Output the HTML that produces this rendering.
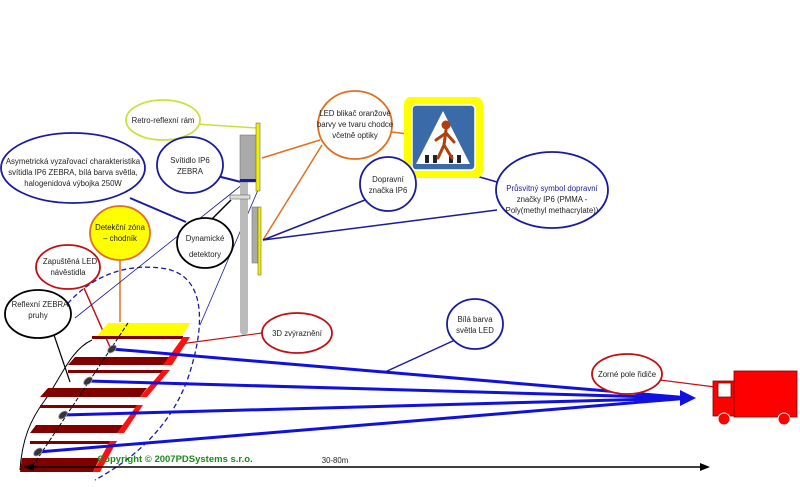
<!DOCTYPE html>
<html><head><meta charset="utf-8"><style>
body{margin:0;background:#fff}
svg{display:block;font-family:"Liberation Sans",sans-serif}
text{font-size:7.8px;fill:#222;text-anchor:middle}
</style></head><body>
<svg width="800" height="490" viewBox="0 0 800 490">
<!-- connector lines -->
<line x1="195" y1="124" x2="257" y2="128" stroke="#cce03a" stroke-width="1.5"/>
<line x1="130" y1="198" x2="186" y2="222" stroke="#1a1aa0" stroke-width="2"/>
<line x1="213" y1="175" x2="241" y2="182" stroke="#1a1aa0" stroke-width="2"/>
<line x1="120" y1="258" x2="120" y2="322" stroke="#e07020" stroke-width="1.5"/>
<line x1="212" y1="219" x2="231" y2="200" stroke="#000" stroke-width="1.5"/>
<line x1="84" y1="288" x2="110" y2="347" stroke="#c01010" stroke-width="1.5"/>
<line x1="54" y1="335" x2="70" y2="382" stroke="#000" stroke-width="1.2"/>
<line x1="320" y1="140" x2="262" y2="158" stroke="#e07020" stroke-width="1.5"/>
<line x1="322" y1="145" x2="263" y2="240" stroke="#e07020" stroke-width="1.5"/>
<line x1="392" y1="132" x2="432" y2="137" stroke="#e07020" stroke-width="1.5"/>
<line x1="410" y1="175" x2="443" y2="167" stroke="#1a1aa0" stroke-width="1.5"/>
<line x1="365" y1="200" x2="263" y2="240" stroke="#1a1aa0" stroke-width="1.5"/>
<line x1="497" y1="182" x2="445" y2="167" stroke="#1a1aa0" stroke-width="1.5"/>
<line x1="497" y1="210" x2="263" y2="240" stroke="#1a1aa0" stroke-width="1.5"/>
<line x1="262" y1="333" x2="180" y2="344" stroke="#c01010" stroke-width="1.2"/>
<line x1="455" y1="340" x2="385" y2="372" stroke="#1a1aa0" stroke-width="1.5"/>
<line x1="660" y1="380" x2="715" y2="387" stroke="#c01010" stroke-width="1.2"/>
<!-- thin light cone lines -->
<line x1="243" y1="184" x2="75" y2="318" stroke="#1a1aa0" stroke-width="0.8"/>
<line x1="258" y1="190" x2="200" y2="325" stroke="#1a1aa0" stroke-width="0.8"/>
<path d="M50,330 C70,290 110,262 160,268 C205,272 205,320 192,365 C180,410 150,450 95,480" fill="none" stroke="#1a1aa0" stroke-width="1.3" stroke-dasharray="5,3"/>
<!-- pole -->
<rect x="240" y="135" width="8" height="200" rx="4" fill="#bbb"/>
<rect x="240" y="135" width="17" height="47" fill="#aaa" stroke="#666" stroke-width="0.5"/>
<rect x="240" y="179" width="17" height="3" fill="#1a1aa0"/>
<rect x="256" y="123" width="4" height="68" fill="#f0f000" stroke="#555" stroke-width="0.5"/>
<rect x="252" y="207" width="6" height="56" fill="#aaa" stroke="#666" stroke-width="0.5"/>
<rect x="258" y="207" width="3" height="68" fill="#f0f000" stroke="#555" stroke-width="0.5"/>
<rect x="230" y="195" width="20" height="4" fill="#ddd" stroke="#666" stroke-width="0.6"/>
<!-- crossing -->
<polygon points="108,323 190,323 180,339 94,339" fill="#ffff00"/>
<path d="M92,340 C70,350 60,380 45,400 C30,420 22,440 20,470" fill="none" stroke="#000" stroke-width="1"/>
<g fill="#800000">
<rect x="92" y="336" width="91" height="3"/><polygon points="75,357 170,357 163,365 68,365"/>
<rect x="68" y="370" width="95" height="3"/><polygon points="48,388 147,388 140,397 40,397"/>
<rect x="40" y="405" width="97" height="3"/><polygon points="36,425 124,425 117,433 30,433"/>
<rect x="30" y="441" width="80" height="3"/><polygon points="22,458 100,458 93,472 20,472"/>
</g>
<g fill="#ff1010">
<polygon points="183,337 190,337 172,365 163,365"/>
<polygon points="163,370 170,370 147,397 140,397"/>
<polygon points="137,405 143,405 124,433 117,433"/>
<polygon points="110,441 117,441 100,472 93,472"/>
</g>
<line x1="128" y1="323" x2="30" y2="470" stroke="#000" stroke-width="1" stroke-dasharray="4,2"/>
<!-- beams -->
<g stroke="#1010e0" stroke-width="3">
<line x1="112" y1="349" x2="690" y2="398"/>
<line x1="88" y1="381" x2="690" y2="398"/>
<line x1="63" y1="415" x2="690" y2="398"/>
<line x1="38" y1="452" x2="690" y2="398"/>
</g>
<polygon points="680,390 696,398 680,406" fill="#1010e0"/>
<g fill="#334" stroke="#999" stroke-width="0.8">
<ellipse cx="112" cy="349" rx="5" ry="3" transform="rotate(-40 112 349)"/>
<ellipse cx="88" cy="381" rx="5" ry="3" transform="rotate(-40 88 381)"/>
<ellipse cx="63" cy="415" rx="5" ry="3" transform="rotate(-40 63 415)"/>
<ellipse cx="38" cy="452" rx="5" ry="3" transform="rotate(-40 38 452)"/>
</g>
<!-- axis -->
<line x1="24" y1="467" x2="702" y2="467" stroke="#000" stroke-width="1.5"/>
<polygon points="700,463 710,467 700,471" fill="#000"/>
<polygon points="34,463 24,467 34,471" fill="#000"/>
<text x="175" y="462" style="fill:#1a8a1a;font-weight:bold;font-size:9.5px">Copyright © 2007PDSystems s.r.o.</text>
<text x="335" y="463">30-80m</text>
<!-- truck -->
<rect x="734" y="371" width="63" height="46" fill="#ff0000" stroke="#800000" stroke-width="0.8"/>
<rect x="713" y="381" width="21" height="35" fill="#ff0000" stroke="#800000" stroke-width="0.8"/>
<rect x="718" y="383" width="13" height="14" fill="#fff" stroke="#800000" stroke-width="0.8"/>
<circle cx="724" cy="419" r="6" fill="#ff0000" stroke="#fff" stroke-width="1"/>
<circle cx="784" cy="419" r="6" fill="#ff0000" stroke="#fff" stroke-width="1"/>
<!-- sign -->
<rect x="404" y="97" width="79" height="81" rx="7" fill="#ffff00"/>
<rect x="412" y="105" width="63" height="65" rx="4" fill="#3a6aa8" stroke="#fff" stroke-width="1.5"/>
<polygon points="443,111 470,164 416,164" fill="#fff"/>
<g fill="#222"><rect x="425" y="155" width="4" height="8"/><rect x="433" y="155" width="4" height="8"/><rect x="449" y="155" width="4" height="8"/><rect x="457" y="155" width="4" height="8"/></g>
<g stroke="#b04010" stroke-width="3" stroke-linecap="round" fill="none"><circle cx="446" cy="125" r="3" fill="#b04010"/><line x1="446" y1="130" x2="444" y2="145"/><line x1="444" y1="145" x2="438" y2="158"/><line x1="444" y1="145" x2="452" y2="158"/><line x1="446" y1="133" x2="436" y2="140"/><line x1="446" y1="133" x2="454" y2="142"/></g>
<!-- ellipses -->
<g fill="#fff" stroke-width="1.8">
<ellipse cx="163" cy="120" rx="37" ry="20" stroke="#cce03a"/>
<ellipse cx="73" cy="168" rx="72" ry="35" stroke="#1a1aa0"/>
<ellipse cx="190" cy="165" rx="33" ry="28" stroke="#1a1aa0"/>
<ellipse cx="120" cy="233" rx="30" ry="27" stroke="#e07020" fill="#ffff00"/>
<ellipse cx="205" cy="243" rx="28" ry="25" stroke="#000"/>
<ellipse cx="68" cy="267" rx="32" ry="22" stroke="#c01010"/>
<ellipse cx="38" cy="314" rx="33" ry="24" stroke="#000"/>
<ellipse cx="355" cy="125" rx="37" ry="34" stroke="#e07020"/>
<ellipse cx="388" cy="184" rx="28" ry="27" stroke="#1a1aa0"/>
<ellipse cx="552" cy="190" rx="56" ry="38" stroke="#1a1aa0"/>
<ellipse cx="297" cy="333" rx="35" ry="20" stroke="#c01010"/>
<ellipse cx="475" cy="324" rx="28" ry="25" stroke="#1a1aa0"/>
<ellipse cx="627" cy="374" rx="35" ry="20" stroke="#c01010"/>
</g>
<text x="163" y="123">Retro-reflexní rám</text>
<text x="73" y="164">Asymetrická vyzařovací charakteristika</text>
<text x="73" y="175">svítidla IP6 ZEBRA, bílá barva světla,</text>
<text x="73" y="186">halogenidová výbojka 250W</text>
<text x="190" y="163">Svítidlo IP6</text>
<text x="190" y="174">ZEBRA</text>
<text x="120" y="230">Detekční zóna</text>
<text x="120" y="241">– chodník</text>
<text x="205" y="241">Dynamické</text>
<text x="205" y="257">detektory</text>
<text x="70" y="264">Zapuštěná LED</text>
<text x="68" y="275">návěstidla</text>
<text x="40" y="307">Reflexní ZEBRA</text>
<text x="38" y="318">pruhy</text>
<text x="355" y="116">LED blikač oranžové</text>
<text x="355" y="127">barvy ve tvaru chodce</text>
<text x="355" y="138">včetně optiky</text>
<text x="388" y="182">Dopravní</text>
<text x="388" y="193">značka IP6</text>
<text x="552" y="191" style="fill:#1a1aa0">Průsvitný symbol dopravní</text>
<text x="552" y="202">značky IP6 (PMMA -</text>
<text x="552" y="213">Poly(methyl methacrylate))</text>
<text x="297" y="336">3D zvýraznění</text>
<text x="475" y="322">Bílá barva</text>
<text x="475" y="333">světla LED</text>
<text x="627" y="377">Zorné pole řidiče</text>
</svg>
</body></html>
